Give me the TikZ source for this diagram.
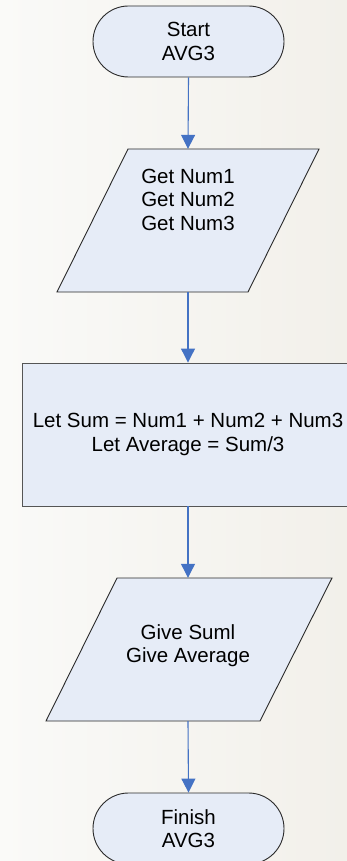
\documentclass[tikz,border=0pt]{standalone}
\usepackage{fontspec}
\setmainfont{Liberation Sans}
\usetikzlibrary{arrows.meta,shapes.misc}
\definecolor{bgL}{HTML}{FAFAF8}
\definecolor{bgR}{HTML}{F2F0EA}
\definecolor{shapefill}{HTML}{E6ECF7}
\definecolor{edge}{HTML}{2A2A2A}
\definecolor{arrowblue}{HTML}{4472C4}
\tikzset{
  x=1pt,y=1pt,
  txt/.style={font=\fontsize{20.5}{23.5}\selectfont, align=center, text=black, inner sep=0pt},
  term/.style={txt, rounded rectangle, draw=edge, fill=shapefill, line width=0.9pt, minimum width=191pt, minimum height=71pt},
  procbox/.style={txt, rectangle, draw=edge!80, fill=shapefill, line width=0.9pt, minimum width=332pt, minimum height=143pt},
  para/.style={draw=edge, fill=shapefill, line width=0.9pt, line join=miter},
  slot/.style={rectangle, inner sep=0pt, minimum width=150pt, minimum height=143pt},
  flow/.style={draw=arrowblue, line width=1.1pt, -{Triangle[width=14pt,length=14pt]}}
}
\begin{document}
\begin{tikzpicture}
\useasboundingbox (0,0) rectangle (347,-861);
\clip (0,0) rectangle (347,-861);
\shade[left color=bgL, right color=bgR] (0,0) rectangle (347,-861);

\node[term] (start) at (188.5,-41.5) {Start\\AVG3};

\path[para] (57,-292) -- (128,-149) -- (319,-149) -- (248,-292) -- cycle;
\node[slot] (get) at (188,-220.5) {};
\node[txt] (gettext) at (188,-199.5) {Get Num1\\Get Num2\\Get Num3};

\node[procbox] (calc) at (188,-434.5) {Let Sum = Num1 + Num2 + Num3\\Let Average = Sum/3};

\path[para] (46,-721) -- (117,-578) -- (332,-578) -- (260,-721) -- cycle;
\node[slot] (give) at (188,-649.5) {};
\node[txt] (givetext) at (188,-645.5) {Give Suml\\Give Average};

\node[term] (finish) at (188.5,-828.5) {Finish\\AVG3};

\draw[flow] (start.south) -- (get.north);
\draw[flow] (get.south) -- (calc.north);
\draw[flow] (calc.south) -- (give.north);
\draw[flow] (give.south) -- (finish.north);
\end{tikzpicture}
\end{document}
